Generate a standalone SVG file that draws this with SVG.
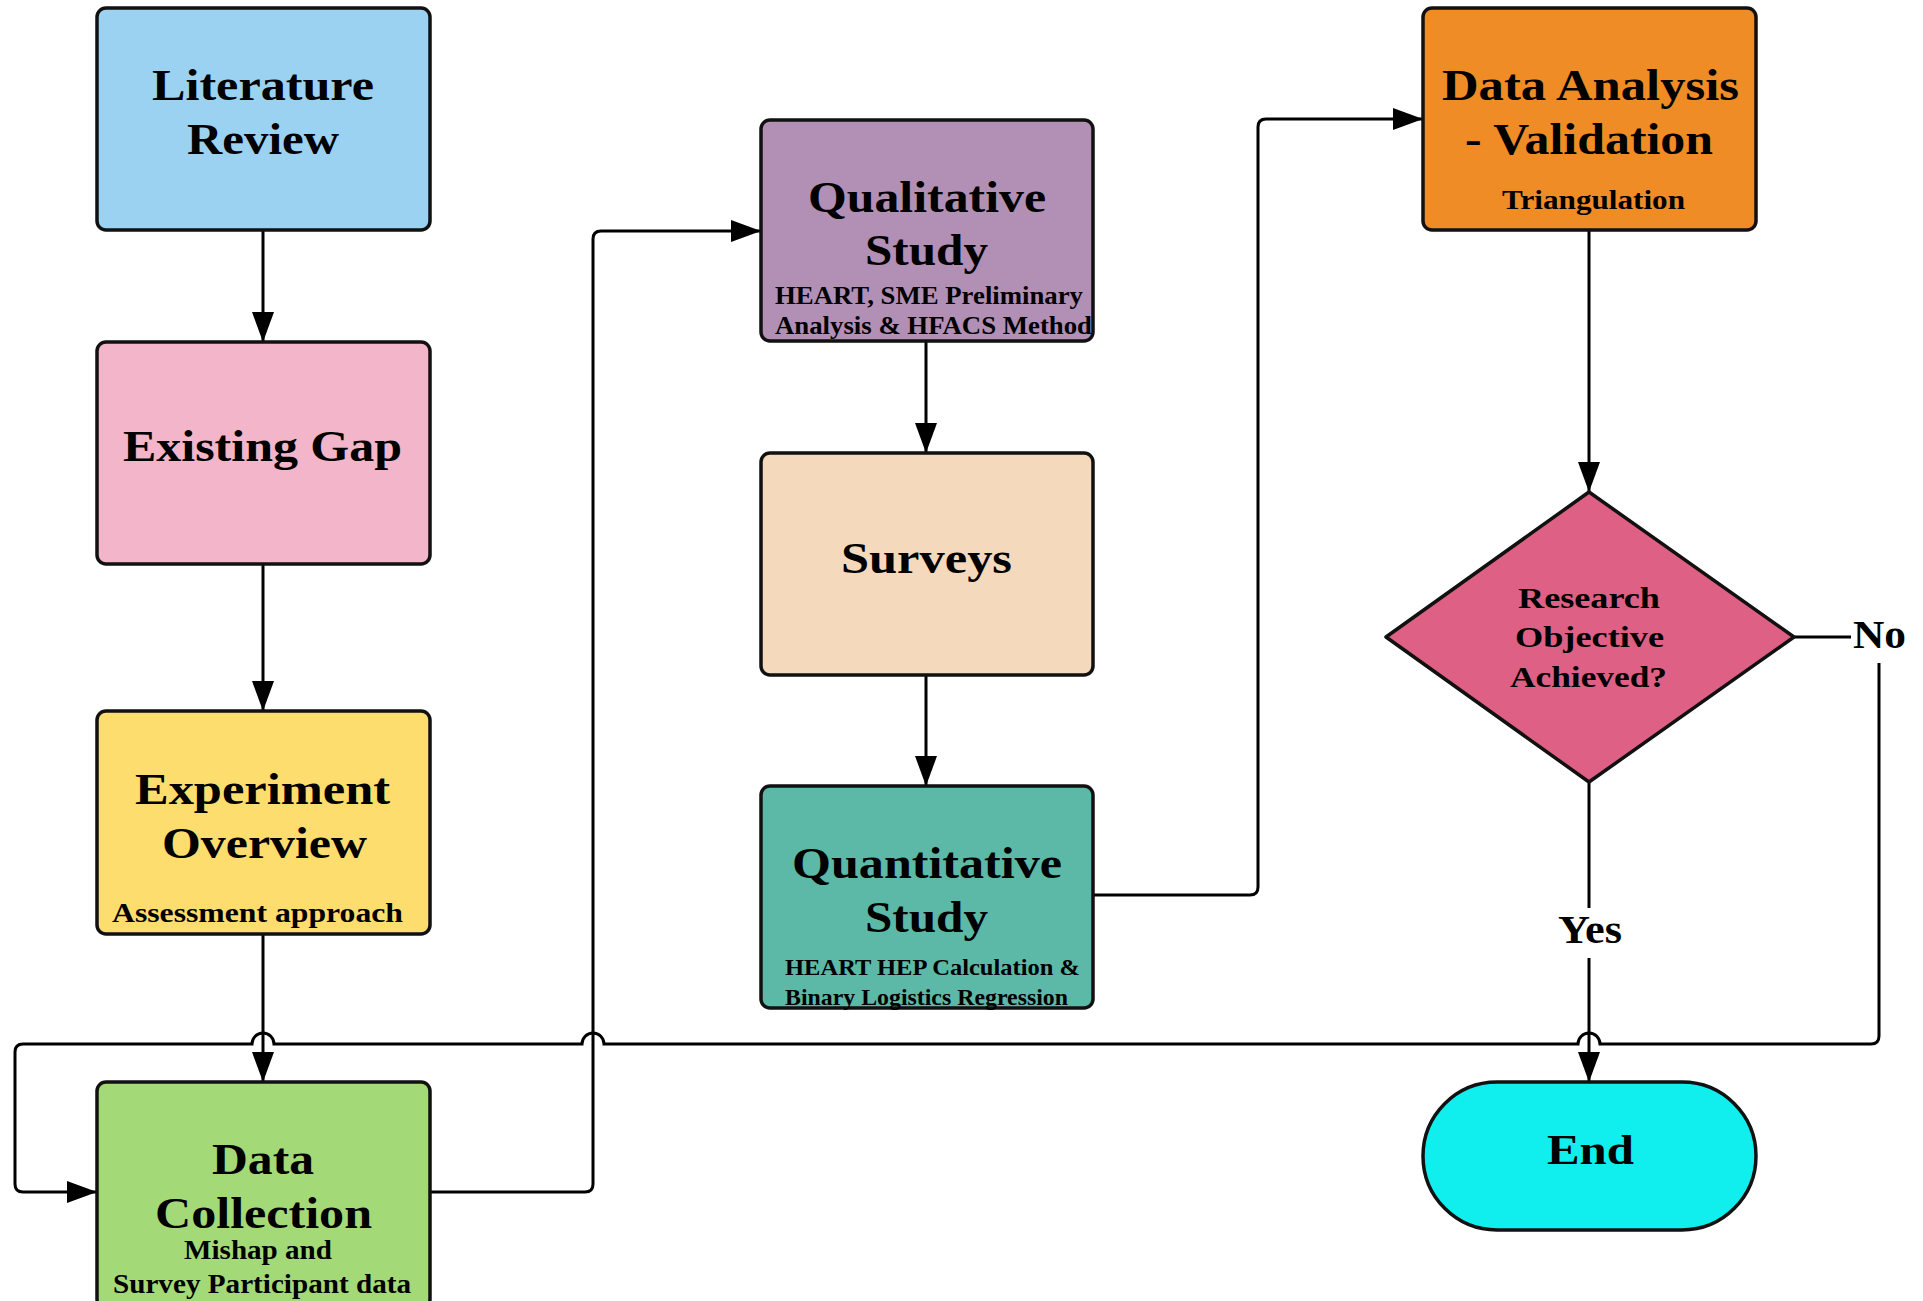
<svg xmlns="http://www.w3.org/2000/svg" width="1923" height="1301" viewBox="0 0 1923 1301">
<style>
.box{stroke:#111;stroke-width:3.5}
.t{font-family:"Liberation Serif","Times New Roman",serif;font-weight:bold;fill:#000}
.h{font-size:44px}
.s{font-size:28px}
.c{fill:none;stroke:#000;stroke-width:3}
</style>
<defs>
<marker id="ar" markerUnits="userSpaceOnUse" markerWidth="30" markerHeight="24" refX="30" refY="12" orient="auto">
<path d="M0,1 L30,12 L0,23 z" fill="#000"/>
</marker>
</defs>
<rect width="1923" height="1301" fill="#fff"/>
<g id="connectors">
<path class="c" d="M263 230 L263 342" marker-end="url(#ar)"/>
<path class="c" d="M263 564 L263 711" marker-end="url(#ar)"/>
<path class="c" d="M263 934 L263 1082" marker-end="url(#ar)"/>
<path class="c" d="M430 1192 L585 1192 Q593 1192 593 1184 L593 239 Q593 231 601 231 L761 231" marker-end="url(#ar)"/>
<path class="c" d="M926 341 L926 453" marker-end="url(#ar)"/>
<path class="c" d="M926 675 L926 786" marker-end="url(#ar)"/>
<path class="c" d="M1093 895 L1250 895 Q1258 895 1258 887 L1258 127 Q1258 119 1266 119 L1423 119" marker-end="url(#ar)"/>
<path class="c" d="M1589 230 L1589 492" marker-end="url(#ar)"/>
<path class="c" d="M1589 782 L1589 908"/>
<path class="c" d="M1589 958 L1589 1082" marker-end="url(#ar)"/>
<path class="c" d="M1794 637 L1851 637"/>
<path class="c" d="M1879 663 L1879 1036 Q1879 1044 1871 1044 L1600 1044 A11 11 0 0 0 1578 1044 L604 1044 A11 11 0 0 0 582 1044 L274 1044 A11 11 0 0 0 252 1044 L23 1044 Q15 1044 15 1052 L15 1184 Q15 1192 23 1192 L97 1192" marker-end="url(#ar)"/>
</g>
<g id="literature-review">
<rect class="box" x="97" y="8" width="333" height="222" rx="9" fill="#9BD2F2"/>
<text class="t h" x="152" y="100" textLength="222" lengthAdjust="spacingAndGlyphs">Literature</text>
<text class="t h" x="187" y="154" textLength="152" lengthAdjust="spacingAndGlyphs">Review</text>
</g>
<g id="existing-gap">
<rect class="box" x="97" y="342" width="333" height="222" rx="9" fill="#F3B5C9"/>
<text class="t h" x="123" y="461" textLength="279" lengthAdjust="spacingAndGlyphs">Existing Gap</text>
</g>
<g id="experiment-overview">
<rect class="box" x="97" y="711" width="333" height="223" rx="9" fill="#FEDD6F"/>
<text class="t h" x="135" y="804" textLength="255" lengthAdjust="spacingAndGlyphs">Experiment</text>
<text class="t h" x="162" y="858" textLength="205" lengthAdjust="spacingAndGlyphs">Overview</text>
<text class="t s" x="112" y="922" textLength="291" lengthAdjust="spacingAndGlyphs">Assessment approach</text>
</g>
<g id="data-collection">
<rect class="box" x="97" y="1082" width="333" height="226" rx="9" fill="#A4D977"/>
<text class="t h" x="212" y="1174" textLength="102" lengthAdjust="spacingAndGlyphs">Data</text>
<text class="t h" x="155" y="1228" textLength="217" lengthAdjust="spacingAndGlyphs">Collection</text>
<text class="t s" x="184" y="1259" textLength="148" lengthAdjust="spacingAndGlyphs">Mishap and</text>
<text class="t s" x="113" y="1293" textLength="298" lengthAdjust="spacingAndGlyphs">Survey Participant data</text>
</g>
<g id="qualitative-study">
<rect class="box" x="761" y="120" width="332" height="221" rx="9" fill="#B28FB5"/>
<text class="t h" x="808" y="212" textLength="238" lengthAdjust="spacingAndGlyphs">Qualitative</text>
<text class="t h" x="865" y="265" textLength="123" lengthAdjust="spacingAndGlyphs">Study</text>
<text class="t" font-size="26" x="775" y="304" textLength="308" lengthAdjust="spacingAndGlyphs">HEART, SME Preliminary</text>
<text class="t" font-size="26" x="775" y="334" textLength="317" lengthAdjust="spacingAndGlyphs">Analysis &amp; HFACS Method</text>
</g>
<g id="surveys">
<rect class="box" x="761" y="453" width="332" height="222" rx="9" fill="#F5D9BC"/>
<text class="t h" x="841" y="573" textLength="171" lengthAdjust="spacingAndGlyphs">Surveys</text>
</g>
<g id="quantitative-study">
<rect class="box" x="761" y="786" width="332" height="222" rx="9" fill="#5CB9A7"/>
<text class="t h" x="792" y="878" textLength="270" lengthAdjust="spacingAndGlyphs">Quantitative</text>
<text class="t h" x="865" y="932" textLength="123" lengthAdjust="spacingAndGlyphs">Study</text>
<text class="t" font-size="24" x="785" y="975" textLength="295" lengthAdjust="spacingAndGlyphs">HEART HEP Calculation &amp;</text>
<text class="t" font-size="24" x="785" y="1005" textLength="283" lengthAdjust="spacingAndGlyphs">Binary Logistics Regression</text>
</g>
<g id="data-analysis">
<rect class="box" x="1423" y="8" width="333" height="222" rx="9" fill="#EF8C25"/>
<text class="t h" x="1442" y="100" textLength="297" lengthAdjust="spacingAndGlyphs">Data Analysis</text>
<text class="t h" x="1465" y="154" textLength="248" lengthAdjust="spacingAndGlyphs">- Validation</text>
<text class="t" font-size="27" x="1502" y="209" textLength="183" lengthAdjust="spacingAndGlyphs">Triangulation</text>
</g>
<g id="decision">
<path class="box" d="M1589 492 L1794 637 L1589 782 L1386 637 Z" stroke-linejoin="round" fill="#DE6085"/>
<text class="t" font-size="30" x="1518" y="608" textLength="142" lengthAdjust="spacingAndGlyphs">Research</text>
<text class="t" font-size="30" x="1515" y="647" textLength="149" lengthAdjust="spacingAndGlyphs">Objective</text>
<text class="t" font-size="30" x="1510" y="687" textLength="157" lengthAdjust="spacingAndGlyphs">Achieved?</text>
</g>
<g id="label-no">
<text class="t" font-size="40" x="1853" y="648" textLength="53" lengthAdjust="spacingAndGlyphs">No</text>
</g>
<g id="label-yes">
<text class="t" font-size="40" x="1558" y="943" textLength="64" lengthAdjust="spacingAndGlyphs">Yes</text>
</g>
<g id="end">
<rect class="box" x="1423" y="1082" width="333" height="148" rx="74" fill="#10EEEE"/>
<text class="t" font-size="43" x="1547" y="1164" textLength="87" lengthAdjust="spacingAndGlyphs">End</text>
</g>
</svg>
